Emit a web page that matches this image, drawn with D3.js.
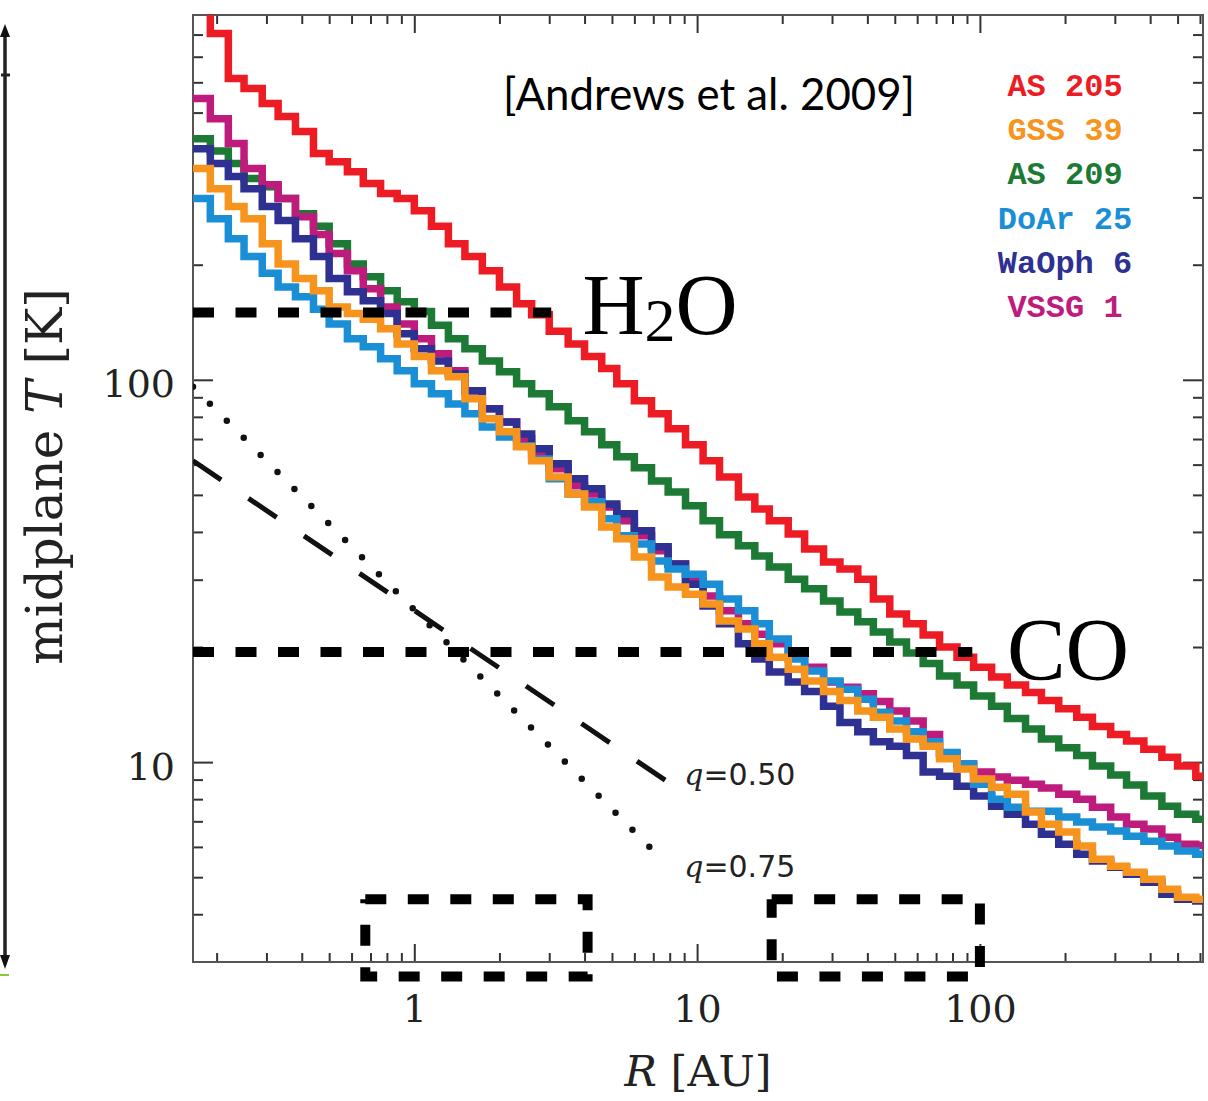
<!DOCTYPE html>
<html>
<head>
<meta charset="utf-8">
<script src="https://cdn.jsdelivr.net/npm/d3@7"></script>
<style>
body { margin: 0; background: #fff; }
</style>
</head>
<body>
<script>
// radial grid (AU) shared by all model profiles
var radius = [0.165, 0.19, 0.22, 0.25, 0.29, 0.33, 0.38, 0.44, 0.50, 0.58, 0.66, 0.76, 0.87, 1.0, 1.15, 1.32, 1.51, 1.74, 2.0, 2.3, 2.6, 3.0, 3.5, 4.0, 4.6, 5.2, 6.0, 6.9, 7.9, 9.1, 10.5, 12, 14, 16, 18, 21, 24, 28, 32, 37, 42, 48, 55, 63, 72, 83, 95, 110, 125, 145, 165, 190, 220, 250, 290, 330, 380, 440, 500, 580, 615];

// midplane temperatures (K)
var tAS205 = [1100, 805, 614, 578, 528, 488, 446, 391, 372, 350, 326, 307, 298, 277, 252, 227, 210, 193, 175, 158, 148, 134, 124, 115, 107, 97.6, 88.1, 81.5, 74.5, 67.6, 61.4, 55.7, 49.4, 45.9, 42.8, 39.5, 36.1, 33.4, 32.0, 30.1, 26.7, 24.4, 23.0, 21.5, 20.0, 18.8, 17.7, 16.7, 15.9, 15.2, 14.5, 13.8, 13.1, 12.4, 11.8, 11.35, 10.8, 10.3, 9.77, 9.19, 9.19];
var tGSS39 = [357, 316, 284, 264, 227, 201, 184, 171, 155, 149, 144, 136, 124, 115, 105.6, 101.8, 89.2, 79.1, 73.1, 66.8, 61.4, 55.7, 50.3, 46.5, 41.2, 38.4, 34.4, 30.5, 28.7, 27.5, 25.9, 23.4, 22.3, 20.4, 18.8, 17.5, 16.3, 15.3, 14.5, 13.6, 13.1, 12.2, 11.5, 11.0, 10.2, 9.59, 9.03, 8.6, 8.24, 7.40, 6.88, 6.56, 6.03, 5.57, 5.34, 5.15, 4.94, 4.65, 4.43, 4.38, 4.38];
var tAS209 = [427, 397, 368, 336, 320, 298, 272, 252, 227, 201, 186, 171, 160, 151, 139, 128, 120.5, 112, 105, 97.6, 91.9, 85.0, 78.1, 73.1, 67.6, 62.9, 58.9, 54.4, 50.9, 46.8, 42.8, 39.3, 36.8, 34.6, 32.4, 30.1, 28.4, 26.4, 24.7, 23.3, 21.9, 20.6, 19.3, 18.1, 16.8, 15.9, 14.9, 14.0, 13.0, 12.2, 11.5, 10.9, 10.4, 9.77, 9.25, 8.71, 8.15, 7.67, 7.31, 7.09, 7.09];
var tDoAr25 = [298, 264, 234, 210, 190, 175, 165, 153, 140, 128, 122, 113.5, 105.6, 97.6, 91.9, 86.5, 81.5, 75.3, 70.9, 67.2, 62.1, 55.1, 50.3, 48.0, 43.3, 39.1, 37.2, 33.6, 32.0, 31.0, 29.2, 26.7, 24.9, 23.0, 21.0, 18.6, 17.3, 16.3, 15.5, 14.6, 13.5, 12.8, 12.0, 11.3, 10.6, 9.88, 8.75, 8.0, 7.62, 7.44, 7.44, 7.18, 6.97, 6.76, 6.60, 6.40, 6.21, 6.03, 5.85, 5.74, 5.74];
var tWaOph6 = [402, 368, 340, 316, 284, 261, 234, 210, 184, 170, 161, 149, 132, 120.5, 112, 103.7, 93.6, 84.0, 77.6, 72.2, 66.0, 60.3, 55.1, 51.9, 47.3, 44.6, 40.3, 36.6, 33.0, 29.2, 25.6, 23.0, 20.4, 18.6, 17.2, 16.2, 15.3, 14.0, 12.7, 12.0, 11.3, 11.0, 10.4, 9.42, 9.19, 8.65, 8.15, 7.67, 7.31, 6.88, 6.48, 6.10, 5.74, 5.51, 5.31, 5.09, 4.85, 4.51, 4.38, 4.33, 4.33];
var tVSSG1 = [544, 482, 415, 357, 324, 298, 267, 240, 214, 193, 173, 155, 140, 128, 117, 105.6, 93.6, 84.0, 77.6, 70.1, 64.0, 58.5, 52.8, 50.3, 46.5, 42.8, 39.1, 35.7, 33.0, 29.8, 27.2, 24.9, 23.0, 21.6, 20.4, 18.95, 17.7, 16.2, 15.7, 15.1, 14.4, 13.6, 12.8, 11.8, 10.5, 9.88, 9.42, 9.14, 8.97, 8.75, 8.55, 8.24, 8.0, 7.62, 7.18, 6.88, 6.68, 6.36, 6.10, 6.05, 6.05];

var names = ["AS 205", "GSS 39", "AS 209", "DoAr 25", "WaOph 6", "VSSG 1"];
var colors = ["#ed1c24", "#f7941d", "#1d7a35", "#1b8fd6", "#2e3192", "#bf1b7d"];
var temps = [tAS205, tGSS39, tAS209, tDoAr25, tWaOph6, tVSSG1];
var drawOrder = [0, 2, 5, 4, 3, 1];

// snow lines
var snowLabels = ["H", "CO"];
var snowTemp = [150, 19.4];
var snowEnd = [3.05, 94];
var snowLabelAt = [[3.93, 132], [124.6, 16.5]];

// power-law reference lines T ~ R^-q
var qLabels = ["0.50", "0.75"];
var qR = [[0.165, 7.8], [0.165, 7.37]];
var qT = [[61.4, 8.92], [95.9, 5.64]];
var qLabelAt = [[9.0, 8.7], [9.0, 5.0]];

// dashed boxes [Rmin, Rmax, Tmin, Tmax]
var boxes = [[0.671, 4.10, 2.75, 4.38], [18.35, 100, 2.75, 4.38]];

// ticks
var majorX = [1, 10, 100];
var minorX = [0.2, 0.3, 0.4, 0.5, 0.6, 0.7, 0.8, 0.9, 2, 3, 4, 5, 6, 7, 8, 9, 20, 30, 40, 50, 60, 70, 80, 90, 200, 300, 400, 500, 600];
var majorY = [10, 100];
var minorY = [4, 5, 6, 7, 8, 9, 20, 30, 40, 50, 60, 70, 80, 90, 200, 300, 400, 500, 600, 700, 800];

var margin = {top: 15, right: 5, bottom: 139, left: 193},
    width = 1208 - margin.left - margin.right,
    height = 1101 - margin.top - margin.bottom;

var svg = d3.select("body").append("svg")
    .attr("width", 1208)
    .attr("height", 1101);

// bits of the neighbouring panel that were cropped in
svg.append("line").attr("x1", 5).attr("x2", 5).attr("y1", 30).attr("y2", 962)
    .attr("stroke", "#222").attr("stroke-width", 3.5);
svg.append("path").attr("d", "M5,24L0,37L10,37Z").attr("fill", "#111");
svg.append("path").attr("d", "M5,969L0,955L10,955Z").attr("fill", "#111");
svg.append("line").attr("x1", 1).attr("x2", 10).attr("y1", 75).attr("y2", 75)
    .attr("stroke", "#222").attr("stroke-width", 3);
svg.append("line").attr("x1", 0).attr("x2", 9).attr("y1", 975).attr("y2", 975)
    .attr("stroke", "#8dc63f").attr("stroke-width", 2);

var g = svg.append("g")
    .attr("transform", "translate(" + margin.left + "," + margin.top + ")");

var x = d3.scaleLog().domain([0.165, 615]).range([0, width]);
var y = d3.scaleLog().domain([3, 900]).range([height, 0]);

g.append("clipPath").attr("id", "plotclip")
  .append("rect").attr("width", width).attr("height", height);

// axes, ticks pointing inwards on all four sides
function addAxis(gen, transform, vals, size, labelled) {
    var a = g.append("g")
        .attr("transform", transform)
        .call(gen.tickValues(vals).tickSize(-size)
            .tickFormat(labelled ? d3.format("d") : ""));
    a.select(".domain").remove();
    a.selectAll(".tick line").attr("stroke", "#333").attr("stroke-width", 2);
    return a;
}

addAxis(d3.axisBottom(x), "translate(0," + height + ")", minorX, 9, false);
addAxis(d3.axisTop(x), "translate(0,0)", minorX, 9, false);
addAxis(d3.axisLeft(y), "translate(0,0)", minorY, 10, false);
addAxis(d3.axisRight(y), "translate(" + width + ",0)", minorY, 10, false);
addAxis(d3.axisTop(x), "translate(0,0)", majorX, 18, false);
addAxis(d3.axisRight(y), "translate(" + width + ",0)", majorY, 20, false);

var xb = addAxis(d3.axisBottom(x).tickPadding(33), "translate(0," + height + ")", majorX, 18, true);
var yl = addAxis(d3.axisLeft(y).tickPadding(18), "translate(0,0)", majorY, 20, true);
[xb, yl].forEach(function(a) {
    a.attr("font-family", "DejaVu Serif").attr("font-size", 38);
    a.selectAll("text").attr("fill", "#222");
});
yl.selectAll("text").attr("dy", "0.45em");

g.append("rect")
    .attr("width", width).attr("height", height)
    .attr("fill", "none").attr("stroke", "#555").attr("stroke-width", 2);

// axis titles
var xt = g.append("text")
    .attr("x", width / 2).attr("y", height + 124)
    .attr("text-anchor", "middle")
    .attr("font-family", "DejaVu Serif").attr("font-size", 43).attr("fill", "#222");
xt.append("tspan").attr("font-style", "italic").text("R");
xt.append("tspan").text(" [AU]");

var yt = g.append("text")
    .attr("transform", "translate(-131," + (height / 2 - 12) + ") rotate(-90)")
    .attr("text-anchor", "middle")
    .attr("font-family", "DejaVu Serif").attr("font-size", 50).attr("fill", "#222");
yt.append("tspan").text("midplane ");
yt.append("tspan").attr("font-style", "italic").text("T");
yt.append("tspan").text(" [K]");

var plot = g.append("g").attr("clip-path", "url(#plotclip)");

// temperature profiles, drawn as histogram steps
var step = d3.line()
    .x(function(d) { return x(d[0]); })
    .y(function(d) { return y(d[1]); })
    .curve(d3.curveStepAfter);

drawOrder.forEach(function(i) {
    var pts = radius.map(function(r, k) { return [r, temps[i][k]]; });
    plot.append("path")
        .datum(pts)
        .attr("d", step)
        .attr("fill", "none")
        .attr("stroke", colors[i])
        .attr("stroke-width", 7.5)
        .attr("stroke-linejoin", "miter");
});

var line = d3.line()
    .x(function(d) { return x(d[0]); })
    .y(function(d) { return y(d[1]); });

// q reference lines
plot.append("path")
    .datum([[qR[0][0], qT[0][0]], [qR[0][1], qT[0][1]]])
    .attr("d", line)
    .attr("fill", "none").attr("stroke", "#111").attr("stroke-width", 5)
    .attr("stroke-dasharray", "34 33");
plot.append("path")
    .datum([[qR[1][0], qT[1][0]], [qR[1][1], qT[1][1]]])
    .attr("d", line)
    .attr("fill", "none").attr("stroke", "#111").attr("stroke-width", 6.5)
    .attr("stroke-linecap", "round")
    .attr("stroke-dasharray", "0 24");

qLabels.forEach(function(q, i) {
    var t = g.append("text")
        .attr("x", x(qLabelAt[i][0])).attr("y", y(qLabelAt[i][1]))
        .attr("font-family", "DejaVu Sans").attr("font-size", 30).attr("fill", "#222");
    t.append("tspan").attr("font-style", "italic").attr("font-family", "DejaVu Serif").text("q");
    t.append("tspan").text("=" + q);
});

// snow lines
snowTemp.forEach(function(T, i) {
    g.append("path")
        .datum([[0.165, T], [snowEnd[i], T]])
        .attr("d", line)
        .attr("fill", "none").attr("stroke", "#000").attr("stroke-width", 10)
        .attr("stroke-dasharray", "21 21.5");
});

var h2o = g.append("text")
    .attr("x", x(snowLabelAt[0][0])).attr("y", y(snowLabelAt[0][1]))
    .attr("font-family", "Liberation Serif").attr("font-size", 86).attr("fill", "#000");
h2o.append("tspan").text(snowLabels[0]);
h2o.append("tspan").attr("font-size", 62).attr("dy", 7).text("2");
h2o.append("tspan").attr("dy", -7).text("O");

g.append("text")
    .attr("x", x(snowLabelAt[1][0])).attr("y", y(snowLabelAt[1][1]))
    .attr("font-family", "Liberation Serif").attr("font-size", 88).attr("fill", "#000")
    .text(snowLabels[1]);

// dashed boxes
boxes.forEach(function(b) {
    g.append("path")
        .datum([[b[0], b[3]], [b[1], b[3]], [b[1], b[2]], [b[0], b[2]], [b[0], b[3]]])
        .attr("d", line)
        .attr("fill", "none").attr("stroke", "#000").attr("stroke-width", 10)
        .attr("stroke-dasharray", "21 21.5");
});

// citation
g.append("text")
    .attr("x", 503 - margin.left).attr("y", 110 - margin.top)
    .attr("font-family", "Lato").attr("font-size", 44).attr("fill", "#000")
    .attr("textLength", 412).attr("lengthAdjust", "spacingAndGlyphs")
    .text("[Andrews et al. 2009]");

// legend
names.forEach(function(n, i) {
    g.append("text")
        .attr("x", 1065 - margin.left).attr("y", 96 - margin.top + i * 44.2)
        .attr("text-anchor", "middle")
        .attr("font-family", "Liberation Mono").attr("font-weight", "bold")
        .attr("font-size", 32).attr("fill", colors[i])
        .text(n);
});
</script>
</body>
</html>
